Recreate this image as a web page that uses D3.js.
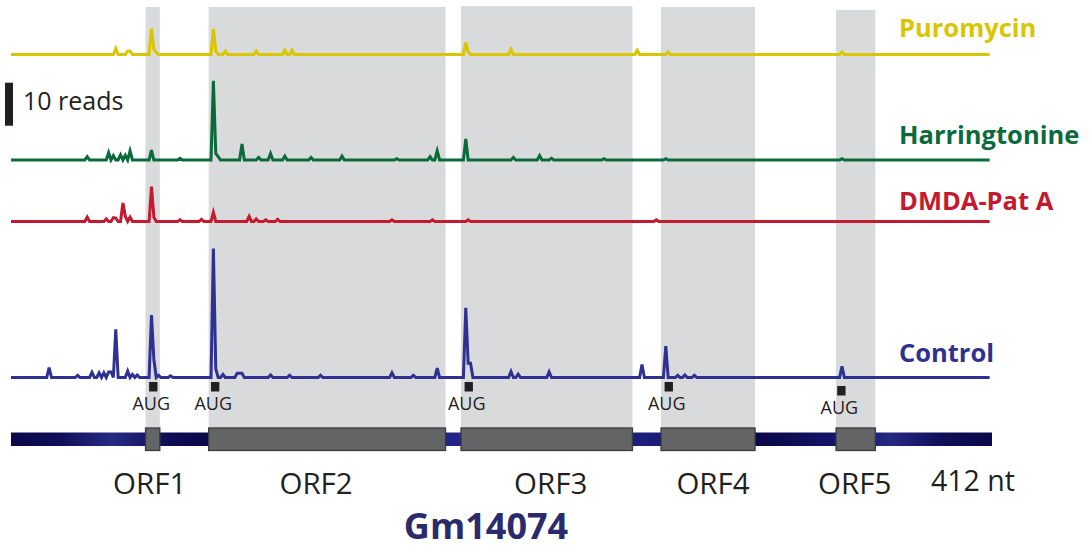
<!DOCTYPE html>
<html>
<head>
<meta charset="utf-8">
<script src="https://cdn.jsdelivr.net/npm/d3@7"></script>
<style>
  body { margin: 0; background: #fff; }
  text { font-family: "Open Sans", sans-serif; }
</style>
</head>
<body>
<script>
// transcript length (nt)
var txLength = 412

// tracks, top to bottom
var trackNames = ['Puromycin', 'Harringtonine', 'DMDA-Pat A', 'Control']

// reads per position, [nt, reads]; all other positions are 0
var puromycin = [[44,1.4],[49,0.8],[50,0.8],[59,6.0],[60,1.2],[61,0.5],[85,5.9],[86,0.8],[90,0.8],
  [103,0.8],[115,1.0],[118,1.0],[191,2.8],[192,0.6],[210,1.2],[263,1.0],[276,0.6],[349,0.6]]
var harringtonine = [[32,0.8],[41,1.7],[43,1.0],[46,1.2],[48,1.1],[50,2.1],[59,2.3],[71,0.4],
  [85,18.4],[86,1.5],[87,0.8],[97,3.7],[104,0.6],[109,1.5],[115,0.9],[126,0.6],[139,0.9],
  [162,0.3],[176,0.8],[179,2.1],[191,4.9],[211,0.6],[222,1.0],[227,0.4],[249,0.3],[275,0.3],[349,0.3]]
var dmdaPatA = [[32,1.0],[40,0.6],[43,0.9],[44,0.8],[47,4.3],[48,1.2],[50,1.0],[59,8.1],[60,1.0],
  [71,0.4],[80,0.5],[85,2.1],[100,1.2],[103,0.6],[107,0.4],[112,0.5],[160,0.4],[177,0.4],[192,0.4],[271,0.4]]
var control = [[16,2.3],[28,0.5],[34,1.2],[37,1.1],[39,1.1],[41,1.3],[42,1.3],[44,11.2],[49,1.5],
  [51,0.7],[53,0.6],[59,14.5],[60,4.2],[62,0.5],[67,0.4],[85,30],[86,2.0],[89,0.7],[95,1.0],[96,1.0],
  [97,1.0],[109,0.6],[117,0.5],[130,0.5],[160,1.1],[169,0.5],[179,2.2],[191,16.2],[192,3.3],[193,3.3],
  [210,1.4],[213,0.8],[226,1.3],[265,3.0],[275,7.3],[280,0.5],[283,0.6],[287,0.5],[349,2.6]]

// ORFs (nt)
var orfNames = ['ORF1', 'ORF2', 'ORF3', 'ORF4', 'ORF5']
var orfStart = [56.5, 83, 189, 273, 346.5]
var orfEnd = [62.5, 182.5, 261, 312.5, 363]
var augStart = [58, 84, 190.5, 274.5, 347]

var scaleReads = 10

// ---- layout
var W = 1091, H = 550
var colors = ['#d9c500', '#0b6a3b', '#c41a30', '#2e3192']
var baselines = [54.5, 160, 221.5, 377.5]
var labelY = [37, 144, 210, 362]
var shadeTop = [7, 7, 6, 7, 10]
var orfLabelDx = [-3, -11, 4, 5, -1]
var augDy = [0, 0, 0, 0, 4]
var readPx = 4.3

var svg = d3.select(document.body).append('svg')
  .attr('width', W).attr('height', H)

var x = d3.scaleLinear().domain([0, txLength]).range([11, 992])

// gray ORF shading
svg.selectAll('rect.shade').data(orfNames).enter().append('rect')
  .attr('class', 'shade')
  .attr('x', function(d, i) { return x(orfStart[i]) })
  .attr('width', function(d, i) { return x(orfEnd[i]) - x(orfStart[i]) })
  .attr('y', function(d, i) { return shadeTop[i] })
  .attr('height', function(d, i) { return 430 - shadeTop[i] })
  .attr('fill', '#d9dadc')

// traces
var series = [puromycin, harringtonine, dmdaPatA, control]
series.forEach(function(s, k) {
  var vals = d3.range(0, txLength).map(function() { return 0 })
  s.forEach(function(p) { vals[p[0]] = p[1] })
  var y = d3.scaleLinear().domain([0, 10]).range([baselines[k], baselines[k] - readPx * 10])
  var line = d3.line()
    .x(function(d, i) { return x(i) })
    .y(function(d) { return y(d) })
  svg.append('path')
    .datum(vals)
    .attr('d', line)
    .attr('fill', 'none')
    .attr('stroke', colors[k])
    .attr('stroke-width', 3)
    .attr('stroke-linejoin', 'miter')

  svg.append('text')
    .attr('x', 899).attr('y', labelY[k])
    .attr('fill', colors[k])
    .attr('font-weight', 700)
    .attr('font-size', 25.5)
    .text(trackNames[k])
})

// scale bar
var ys = d3.scaleLinear().domain([0, 10]).range([125.7, 125.7 - readPx * 10])
svg.append('rect')
  .attr('x', 5).attr('width', 8)
  .attr('y', ys(scaleReads)).attr('height', ys(0) - ys(scaleReads))
  .attr('fill', '#231f20')
svg.append('text')
  .attr('x', 23).attr('y', 110)
  .attr('font-size', 25)
  .attr('fill', '#231f20')
  .text(scaleReads + ' reads')

// AUG markers
svg.selectAll('rect.aug').data(augStart).enter().append('rect')
  .attr('class', 'aug')
  .attr('x', function(d) { return x(d) })
  .attr('width', function(d) { return x(d + 3.5) - x(d) })
  .attr('y', function(d, i) { return 382 + augDy[i] })
  .attr('height', 9.5)
  .attr('fill', '#231f20')
svg.selectAll('text.aug').data(augStart).enter().append('text')
  .attr('class', 'aug')
  .attr('x', function(d) { return x(d + 1.75) - 2 })
  .attr('y', function(d, i) { return 410 + augDy[i] })
  .attr('text-anchor', 'middle')
  .attr('font-size', 18)
  .attr('fill', '#231f20')
  .text('AUG')

// transcript bar
var grad = svg.append('defs').append('linearGradient')
  .attr('id', 'txgrad')
  .attr('gradientUnits', 'userSpaceOnUse')
  .attr('x1', x(0)).attr('x2', x(txLength)).attr('y1', 0).attr('y2', 0)
var gstops = [[11,'#0a0848'],[60,'#100e5a'],[112,'#262a82'],[170,'#0e0c55'],[205,'#0a0848'],
  [452,'#22248a'],[645,'#1c1e7a'],[760,'#0a0848'],[830,'#131365'],[890,'#252982'],[940,'#10105a'],[992,'#0a0848']]
gstops.forEach(function(g) {
  grad.append('stop').attr('offset', (g[0] - 11) / (992 - 11)).attr('stop-color', g[1])
})
svg.append('rect')
  .attr('x', x(0)).attr('width', x(txLength) - x(0))
  .attr('y', 432.5).attr('height', 13.5)
  .attr('fill', 'url(#txgrad)')

svg.selectAll('rect.orf').data(orfNames).enter().append('rect')
  .attr('class', 'orf')
  .attr('x', function(d, i) { return x(orfStart[i]) })
  .attr('width', function(d, i) { return x(orfEnd[i]) - x(orfStart[i]) })
  .attr('y', 428).attr('height', 22.5)
  .attr('fill', '#636466')
  .attr('stroke', '#3b3b3d')
  .attr('stroke-width', 1.3)

svg.selectAll('text.orf').data(orfNames).enter().append('text')
  .attr('class', 'orf')
  .attr('x', function(d, i) { return (x(orfStart[i]) + x(orfEnd[i])) / 2 + orfLabelDx[i] })
  .attr('y', 494)
  .attr('text-anchor', 'middle')
  .attr('font-size', 29.5)
  .attr('fill', '#231f20')
  .text(function(d) { return d })

svg.append('text')
  .attr('x', 931).attr('y', 491)
  .attr('font-size', 28.5)
  .attr('fill', '#231f20')
  .text(txLength + ' nt')

svg.append('text')
  .attr('x', 486).attr('y', 539)
  .attr('text-anchor', 'middle')
  .attr('font-weight', 700)
  .attr('font-size', 36)
  .attr('fill', '#2a2a6c')
  .text('Gm14074')
</script>
</body>
</html>
